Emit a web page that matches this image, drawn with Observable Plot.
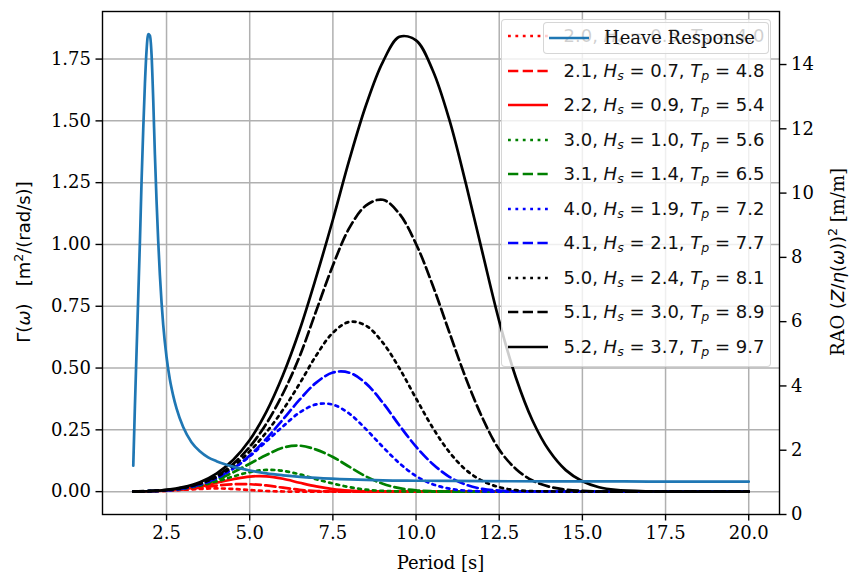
<!DOCTYPE html>
<html><head><meta charset="utf-8">
<script src="https://cdn.jsdelivr.net/npm/d3@7"></script>
<script src="https://cdn.jsdelivr.net/npm/@observablehq/plot@0.6"></script>
<style>
body{margin:0;background:#fff;}
#wrap{position:relative;width:850px;height:579px;overflow:hidden;background:#fff;}
#wrap svg{position:absolute;left:0;top:0;}
.lab{position:absolute;white-space:nowrap;font-size:18px;color:#000;line-height:1;}
.serif{font-family:'DejaVu Serif',serif;}
.sans{font-family:'DejaVu Sans',sans-serif;}
.rot{transform:translate(-50%,-50%) rotate(-90deg);}
.legend{position:absolute;background:rgba(255,255,255,0.8);border:1.5px solid rgba(204,204,204,0.8);border-radius:4px;box-sizing:border-box;}
.row{position:absolute;white-space:nowrap;font-size:18px;line-height:24px;height:24px;}
.row svg{position:absolute;}
sub{font-size:70%;vertical-align:-0.25em;line-height:0;}
sup{font-size:70%;vertical-align:0.55em;line-height:0;}
</style></head><body><div id="wrap"></div>
<script>
// ---- data ----
const periods = [1.5,2,2.5,3,3.5,4,4.5,5,5.5,6,6.5,7,7.5,8,8.5,9,9.5,10,10.5,11,11.5,12,12.5,13,13.5,14,14.5,15,15.5,16,17,18,19,20];
const spec20 = [0.0003,0.0013,0.0036,0.0073,0.011,0.013,0.011,0.0065,0.0026,0.0006,0.0001,0,0,0,0,0,0,0,0,0,0,0,0,0,0,0,0,0,0,0,0,0,0,0];
const spec21 = [0.0003,0.0014,0.004,0.0086,0.016,0.024,0.030,0.030,0.025,0.016,0.0074,0.0026,0.0006,0,0,0,0,0,0,0,0,0,0,0,0,0,0,0,0,0,0,0,0,0];
const spec22 = [0.0004,0.0015,0.0045,0.010,0.020,0.036,0.050,0.061,0.062,0.052,0.036,0.021,0.010,0.004,0.001,0,0,0,0,0,0,0,0,0,0,0,0,0,0,0,0,0,0,0];
const spec30 = [0.0005,0.002,0.005,0.012,0.024,0.041,0.061,0.079,0.088,0.084,0.070,0.050,0.033,0.018,0.008,0.003,0.001,0,0,0,0,0,0,0,0,0,0,0,0,0,0,0,0,0];
const spec31 = [0.0005,0.002,0.0055,0.013,0.027,0.048,0.078,0.113,0.148,0.178,0.186,0.170,0.140,0.100,0.061,0.032,0.014,0.005,0.0015,0,0,0,0,0,0,0,0,0,0,0,0,0,0,0];
const spec40 = [0,0.002,0.005,0.014,0.029,0.054,0.093,0.143,0.203,0.264,0.320,0.353,0.352,0.315,0.252,0.181,0.115,0.063,0.030,0.012,0.004,0.001,0,0,0,0,0,0,0,0,0,0,0,0];
const spec41 = [0,0.002,0.005,0.013,0.029,0.055,0.093,0.146,0.214,0.292,0.372,0.441,0.482,0.481,0.437,0.360,0.268,0.182,0.112,0.060,0.028,0.011,0.004,0.001,0,0,0,0,0,0,0,0,0,0];
const spec50 = [0,0.002,0.006,0.015,0.032,0.059,0.103,0.163,0.240,0.331,0.437,0.551,0.643,0.687,0.671,0.603,0.499,0.377,0.259,0.160,0.088,0.043,0.018,0.006,0.002,0.001,0,0,0,0,0,0,0,0];
const spec51 = [0,0.003,0.007,0.016,0.033,0.063,0.112,0.181,0.275,0.397,0.547,0.732,0.915,1.068,1.158,1.181,1.124,1.002,0.835,0.645,0.458,0.297,0.170,0.092,0.045,0.020,0.008,0.003,0.001,0,0,0,0,0];
const spec52 = [0,0.002,0.007,0.018,0.038,0.073,0.128,0.209,0.323,0.472,0.654,0.869,1.100,1.345,1.565,1.738,1.840,1.826,1.705,1.505,1.245,0.965,0.690,0.462,0.288,0.166,0.087,0.042,0.018,0.007,0.001,0,0,0];

const heavePeriods = [1.5,1.55,1.6,1.65,1.7,1.75,1.8,1.85,1.9,1.95,2.0,2.05,2.1,2.15,2.2,2.25,2.3,2.35,2.4,2.5,2.6,2.7,2.8,3.0,3.25,3.5,3.75,4.0,4.5,5.0,5.5,6.0,7.0,8.0,9.0,10.0,12.0,14.0,16.0,18.0,20.0];
const heaveRAO = [1.52,3.4,5.1,6.8,8.5,10.4,12.0,13.4,14.45,14.95,14.9,14.3,12.9,11.2,9.75,8.5,7.45,6.6,5.9,4.9,4.2,3.7,3.3,2.72,2.25,1.97,1.78,1.66,1.49,1.37,1.28,1.22,1.14,1.09,1.06,1.05,1.04,1.03,1.03,1.02,1.02];

const seaStates = ["2.0","2.1","2.2","3.0","3.1","4.0","4.1","5.0","5.1","5.2"];
const hsValues  = ["0.5","0.7","0.9","1.0","1.4","1.9","2.1","2.4","3.0","3.7"];
const tpValues  = ["4.0","4.8","5.4","5.6","6.5","7.2","7.7","8.1","8.9","9.7"];
const spectra = [spec20,spec21,spec22,spec30,spec31,spec40,spec41,spec50,spec51,spec52];

const xTicks = [2.5,5,7.5,10,12.5,15,17.5,20];
const leftTicks = [0,0.25,0.5,0.75,1,1.25,1.5,1.75];
const rightTicks = [0,2,4,6,8,10,12,14];

// ---- styles ----
const seriesColors = ["#ff0000","#ff0000","#ff0000","#008000","#008000","#0000ff","#0000ff","#000000","#000000","#000000"];
const seriesStyles = ["dotted","dashed","solid","dotted","dashed","dotted","dashed","dotted","dashed","solid"];
const dashFor = {dotted:"2.8,4.6", dashed:"10.3,4.4", solid:null};
const heaveColor = "#1f77b4";
const LW = 2.7;

const W = 850, H = 579;
const margins = {marginLeft:102, marginRight:71, marginTop:11, marginBottom:65};
const xDomain = [0.575, 20.925];
const fontStyle = {fontFamily:"'DejaVu Serif', serif", fontSize:"18px", background:"transparent", overflow:"visible", color:"#000"};

const wrap = document.getElementById("wrap");

// ---- main axes: spectra ----
const specMarks = spectra.map((vals, i) => {
  const rows = periods.map((t, j) => ({T: t, S: vals[j]}));
  return Plot.line(rows, {x:"T", y:"S", stroke: seriesColors[i], strokeWidth: LW,
    strokeDasharray: dashFor[seriesStyles[i]] || undefined, curve:"catmull-rom", strokeLinejoin:"round"});
});

const plot1 = Plot.plot({
  width: W, height: H, ...margins,
  style: fontStyle,
  x: {domain: xDomain},
  y: {domain: [-0.0925, 1.9425]},
  marks: [
    Plot.gridX(xTicks, {stroke:"#b0b0b0", strokeOpacity:1, strokeWidth:1.5}),
    Plot.gridY(leftTicks, {stroke:"#b0b0b0", strokeOpacity:1, strokeWidth:1.5}),
    ...specMarks,
    Plot.frame({stroke:"#000", strokeWidth:1.4}),
    Plot.axisX(xTicks, {tickFormat: d => d.toFixed(1), tickSize: 6.5, tickPadding: 5, strokeWidth: 1.4, label: null}),
    Plot.axisY(leftTicks, {tickFormat: d => d.toFixed(2), tickSize: 6.5, tickPadding: 5, strokeWidth: 1.4, label: null})
  ]
});
wrap.appendChild(plot1);

// ---- main legend ----
function handleSvg(color, style, w) {
  const d = dashFor[style];
  return `<svg width="${w}" height="24" style="left:0;top:0;overflow:visible"><line x1="0" x2="${w}" y1="12" y2="12" stroke="${color}" stroke-width="${LW}" ${d ? `stroke-dasharray="${d}"` : ""}/></svg>`;
}
const leg1 = document.createElement("div");
leg1.className = "legend";
Object.assign(leg1.style, {left:"500.5px", top:"19px", width:"270px", height:"348px"});
seaStates.forEach((s, i) => {
  const row = document.createElement("div");
  row.className = "row";
  row.style.left = "6px";
  row.style.top = (16 + i * 34.5 - 12) + "px";
  row.style.width = "260px";
  row.innerHTML = `<div style="position:absolute;left:0;top:0;width:40px;height:24px">${handleSvg(seriesColors[i], seriesStyles[i], 40)}</div>` +
    `<span class="sans" style="position:absolute;left:56px;top:0;color:#111">${s}, <i>H</i><sub><i>s</i></sub> = ${hsValues[i]}, <i>T</i><sub><i>p</i></sub> = ${tpValues[i]}</span>`;
  leg1.appendChild(row);
});
wrap.appendChild(leg1);

// ---- twin axes: heave response ----
const heaveRows = heavePeriods.map((t, j) => ({T: t, R: heaveRAO[j]}));
const plot2 = Plot.plot({
  width: W, height: H, ...margins,
  style: fontStyle,
  x: {domain: xDomain, axis: null},
  y: {domain: [0, 15.65]},
  marks: [
    Plot.line(heaveRows, {x:"T", y:"R", stroke: heaveColor, strokeWidth: LW, curve:"monotone-x", strokeLinejoin:"round"}),
    Plot.axisY(rightTicks, {anchor:"right", tickFormat: d => String(d), tickSize: 6.5, tickPadding: 5, strokeWidth: 1.4, label: null})
  ]
});
wrap.appendChild(plot2);

// ---- heave legend ----
const leg2 = document.createElement("div");
leg2.className = "legend";
Object.assign(leg2.style, {left:"543px", top:"21.5px", width:"226px", height:"32px"});
leg2.innerHTML = `<div class="row" style="left:5px;top:3px;width:215px"><div style="position:absolute;left:0;top:0;width:40px;height:24px">${handleSvg(heaveColor, "solid", 40)}</div>` +
  `<span class="serif" style="position:absolute;left:55px;top:0;color:#111">Heave Response</span></div>`;
wrap.appendChild(leg2);

// ---- axis labels ----
function addLabel(html, x, y, rotate, cls) {
  const d = document.createElement("div");
  d.className = "lab " + cls + (rotate ? " rot" : "");
  d.style.left = x + "px";
  d.style.top = y + "px";
  if (!rotate) d.style.transform = "translate(-50%,-50%)";
  d.innerHTML = html;
  wrap.appendChild(d);
}
addLabel("Period [s]", 440.5, 563, false, "serif");
addLabel(`Γ(<i>ω</i>)&nbsp;&nbsp;&nbsp;[m<sup>2</sup>/(rad/s)]`, 24, 262, true, "sans");
addLabel(`<span class="serif">RAO </span>(<i>Z</i>/<i>η</i>(<i>ω</i>))<sup>2</sup><span class="serif"> [m/m]</span>`, 838, 262, true, "sans");
</script>
</body></html>
